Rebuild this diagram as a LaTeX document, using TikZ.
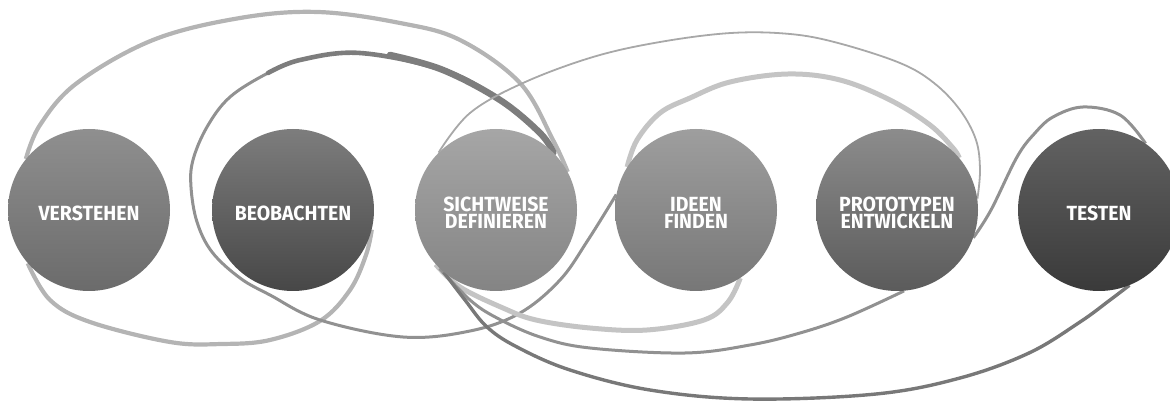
\documentclass[tikz,border=0pt]{standalone}
\usepackage{fontspec}
\setmainfont{Fira Sans}[FakeStretch=0.95]
\usepackage{tikz}
\pgfdeclarelayer{ribbons}
\pgfsetlayers{ribbons,main}
\definecolor{verstTop}{RGB}{143,143,143}
\definecolor{verstBot}{RGB}{107,107,107}
\definecolor{beobTop}{RGB}{125,125,125}
\definecolor{beobBot}{RGB}{71,71,71}
\definecolor{sichtTop}{RGB}{166,166,166}
\definecolor{sichtBot}{RGB}{132,132,132}
\definecolor{ideenTop}{RGB}{158,158,158}
\definecolor{ideenBot}{RGB}{119,119,119}
\definecolor{protoTop}{RGB}{140,140,140}
\definecolor{protoBot}{RGB}{91,91,91}
\definecolor{testTop}{RGB}{98,98,98}
\definecolor{testBot}{RGB}{58,58,58}
\definecolor{ribbonpale}{RGB}{196,196,196}
\definecolor{ribbonlight}{RGB}{180,180,180}
\definecolor{ribbonthin}{RGB}{168,168,168}
\definecolor{ribbonmid}{RGB}{145,145,145}
\definecolor{ribbondark}{RGB}{125,125,125}
\definecolor{ribbondeep}{RGB}{120,120,120}
\tikzset{
  stage/.style={circle,minimum size=162pt,inner sep=0pt,draw=none},
  stagelabel/.style={text=white,font=\bfseries\fontsize{20.5}{17}\selectfont,align=center,inner sep=0pt},
  paleband/.style={line width=5pt,ribbonpale},
  lightband/.style={line width=4.2pt,ribbonlight},
  thinband/.style={line width=1.8pt,ribbonthin},
  midband/.style={line width=3pt,ribbonmid},
  deepband/.style={line width=3.4pt,ribbondeep},
  darkband/.style={line width=6.5pt,ribbondark,line cap=round}
}
\begin{document}
\begin{tikzpicture}[x=1pt,y=-1pt]
  \useasboundingbox (0,0) rectangle (1170,403);
  \foreach \n/\x in {verst/89,beob/293,sicht/496,ideen/696,proto/897,test/1099}
    {\node[stage,top color=\n Top,bottom color=\n Bot] (\n) at (\x,210) {};}
  \foreach \n/\t in {verst/VERSTEHEN,beob/BEOBACHTEN,sicht/{SICHTWEISE\\DEFINIEREN},ideen/{IDEEN\\FINDEN},proto/{PROTOTYPEN\\ENTWICKELN},test/TESTEN}
    {\node[stagelabel] (\n-text) at ([yshift=-3pt]\n.center) {\t};}
  \begin{pgfonlayer}{ribbons}
    \draw[lightband] plot[smooth,tension=.6] coordinates {(verst.141) (40,125) (77,83) (153,40) (240,18) (318,12) (400,23) (460,40) (520,83) (553,140) (sicht.28)};
    \draw[lightband] plot[smooth,tension=.6] coordinates {(verst.221) (50,300) (90,322) (170,342) (222,344) (270,340) (320,321) (350,290) (366,255) (beob.-14)};
    \draw[midband] plot[smooth,tension=.6] coordinates {(sicht.45) (540,133) (500,100) (443,70) (360,53) (300,60) (268,73) (230,97) (207,127) (193,160) (191,187) (197,222) (212,252) (240,278) (270,295) (320,320) (403,337) (470,331) (520,313) (560,280) (588,240) (ideen.169)};
    \draw[darkband,line width=4.6pt] plot[smooth,tension=.6] coordinates {(sicht.45) (540,133) (500,100) (443,70) (360,53) (300,60) (268,73)};
    \draw[darkband] plot[smooth,tension=.6] coordinates {(sicht.45) (540,133) (500,100) (443,70) (390,55)};
    \draw[thinband] plot[smooth,tension=.6] coordinates {(sicht.135) (470,113) (523,83) (593,57) (660,42) (731,33) (790,34) (838,43) (900,63) (934,83) (960,110) (976,140) (980,170) (proto.8)};
    \draw[paleband] plot[smooth,tension=.6] coordinates {(ideen.148) (637,140) (660,113) (690,98) (730,82) (788,74) (840,80) (890,100) (930,125) (953,148) (proto.40)};
    \draw[paleband] plot[smooth,tension=.6] coordinates {(sicht.222) (460,287) (503,308) (536,320) (590,328) (647,330) (704,320) (728,302) (ideen.-57)};
    \draw[midband] plot[smooth,tension=.6] coordinates {(sicht.226) (470,300) (497,318) (540,337) (590,348) (685,353) (750,345) (800,333) (847,317) (proto.-85)};
    \draw[deepband] plot[smooth,tension=.6] coordinates {(sicht.230) (465,300) (487,327) (517,347) (570,370) (650,390) (750,399) (876,394) (960,378) (1029,353) (1080,322) (1110,300) (test.-68)};
    \draw[midband] plot[smooth,tension=.6] coordinates {(proto.-20) (991,210) (1017,157) (1035,133) (1053,117) (1083,107) (1120,115) (test.55)};
  \end{pgfonlayer}
\end{tikzpicture}
\end{document}
